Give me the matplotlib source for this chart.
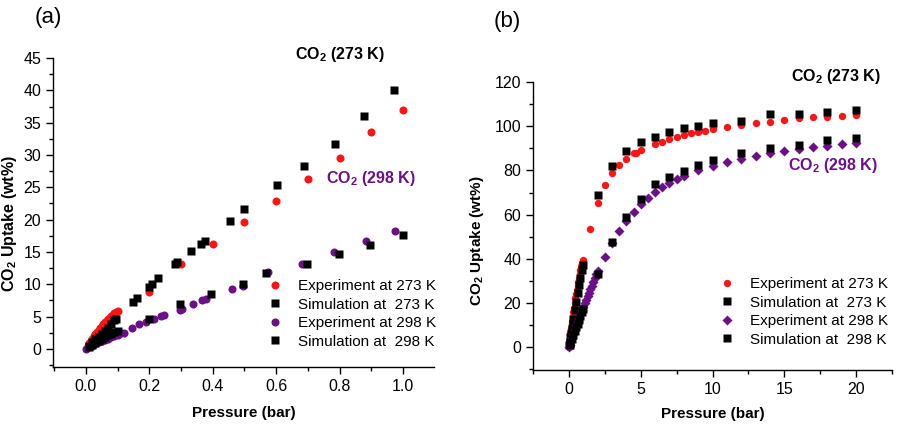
import matplotlib
matplotlib.use("Agg")
import matplotlib.pyplot as plt
from matplotlib.ticker import MultipleLocator

plt.rcParams['font.family'] = ['Liberation Sans', 'DejaVu Sans']
plt.rcParams['mathtext.fontset'] = 'custom'
plt.rcParams['mathtext.rm'] = 'Liberation Sans'
plt.rcParams['mathtext.bf'] = 'Liberation Sans:bold'

RED = '#ff1414'
PURPLE = '#6e0f8a'

# ---- panel (a): 0 - 1 bar ----
a_exp273_p = [0.005, 0.01, 0.015, 0.02, 0.025, 0.03, 0.035, 0.04, 0.045, 0.05, 0.055, 0.06,
              0.065, 0.07, 0.075, 0.08, 0.085, 0.09, 0.095, 0.1,
              0.2, 0.3, 0.4, 0.5, 0.6, 0.7, 0.8, 0.9, 1.0]
a_exp273_u = [0.5, 0.9, 1.3, 1.6, 2.0, 2.3, 2.6, 2.9, 3.2, 3.5, 3.8, 4.1,
              4.3, 4.6, 4.8, 5.1, 5.3, 5.5, 5.7, 5.9,
              8.8, 13.1, 16.3, 19.6, 22.9, 26.3, 29.6, 33.5, 36.9]
a_sim273_p = [0.01, 0.02, 0.03, 0.04, 0.05, 0.06, 0.07, 0.08, 0.09, 0.096,
              0.15, 0.16, 0.199, 0.209, 0.226, 0.281, 0.287, 0.331, 0.363, 0.375,
              0.453, 0.50, 0.603, 0.687, 0.785, 0.878, 0.973]
a_sim273_u = [0.5, 1.0, 1.5, 1.9, 2.3, 2.8, 3.3, 3.8, 4.4, 4.7,
              7.3, 7.8, 9.6, 10.0, 10.9, 13.1, 13.4, 15.2, 16.3, 16.7,
              19.8, 21.6, 25.3, 28.3, 31.7, 36.0, 40.0]
a_exp298_p = [0.0, 0.01, 0.02, 0.03, 0.04, 0.05, 0.06, 0.07, 0.08, 0.09, 0.1, 0.11, 0.12,
              0.146, 0.168, 0.188, 0.215, 0.237, 0.247, 0.297, 0.303, 0.337, 0.367, 0.378,
              0.462, 0.494, 0.575, 0.682, 0.783, 0.882, 0.975]
a_exp298_u = [0.0, 0.3, 0.5, 0.8, 1.0, 1.2, 1.4, 1.6, 1.8, 2.0, 2.2, 2.4, 2.5,
              3.2, 3.9, 4.2, 4.6, 5.1, 5.3, 6.0, 6.1, 6.9, 7.5, 7.7,
              9.3, 9.8, 11.9, 13.2, 15.0, 16.7, 18.2]
a_sim298_p = [0.01, 0.02, 0.03, 0.04, 0.05, 0.06, 0.07, 0.08, 0.09, 0.1,
              0.198, 0.298, 0.396, 0.496, 0.567, 0.697, 0.798, 0.897, 0.999]
a_sim298_u = [0.3, 0.6, 0.9, 1.2, 1.5, 1.8, 2.1, 2.3, 2.6, 2.8,
              4.7, 6.9, 8.5, 10.0, 11.7, 13.1, 14.7, 16.1, 17.6]

# ---- panel (b): 0 - 20 bar ----
b_exp273_p = [0.0, 0.02, 0.05, 0.1, 0.15, 0.2, 0.25, 0.3, 0.35, 0.4, 0.45, 0.5, 0.55, 0.6,
              0.65, 0.7, 0.75, 0.8, 0.85, 0.9, 0.95, 1.0,
              1.5, 2.0, 2.5, 3.0, 3.5, 4.0, 4.5, 4.7, 5.0, 6.0, 6.5, 7.0, 7.5, 8.0, 8.5,
              9.0, 9.5, 10.0, 11, 12, 13, 14, 15, 16, 17, 18, 19, 20]
b_exp273_u = [0.0, 1.5, 3.4, 6.2, 8.7, 11.2, 13.5, 15.7, 17.9, 20.0, 22.0, 24.0, 25.9, 27.8,
              29.6, 31.4, 33.1, 34.8, 36.5, 38.1, 39.0, 39.5,
              53.4, 65.4, 73.4, 78.7, 82.4, 85.4, 87.7, 88.0, 89.2, 92.2, 93.1, 94.2, 95.2, 96.0, 96.8,
              97.2, 98.0, 98.6, 99.8, 100.5, 101.4, 102.0, 102.8, 103.6, 104.0, 104.3, 104.8, 105.1]
b_sim273_p = [0.02, 0.05, 0.1, 0.15, 0.2, 0.25, 0.3, 0.4, 0.5, 0.6, 0.7, 0.8, 0.9, 0.95,
              2, 3, 4, 5, 6, 7, 8, 9, 10, 12, 14, 16, 18, 20]
b_sim273_u = [1.0, 2.2, 4.4, 6.5, 8.6, 10.7, 12.8, 16.8, 20.6, 24.4, 28.0, 31.5, 34.9, 37.1,
              69.1, 82.1, 88.9, 93.0, 95.2, 97.4, 99.2, 100.1, 101.6, 102.5, 105.5, 105.5, 106.3, 107.3]
b_exp298_p = [0.0, 0.05, 0.1, 0.2, 0.3, 0.4, 0.5, 0.6, 0.7, 0.8, 0.9, 1.0, 1.1, 1.2, 1.3, 1.4,
              1.5, 1.6, 1.7, 1.8, 1.9, 2.0, 2.5, 3.0, 3.5, 4.0, 4.5, 5.0, 5.5, 6.0, 6.5, 7.0,
              7.5, 8.0, 9.0, 10.0, 11.0, 12, 13, 14, 15, 16, 17, 18, 19, 20]
b_exp298_u = [0.0, 1.1, 2.2, 4.2, 6.1, 8.0, 9.8, 11.6, 13.3, 15.0, 16.7, 18.3, 19.8, 21.4, 23.0, 24.6,
              26.2, 27.8, 29.5, 31.2, 33.0, 34.6, 40.9, 47.2, 52.7, 57.2, 61.3, 64.8, 67.6, 70.1, 72.3, 74.4,
              76.1, 77.6, 80.2, 82.1, 83.9, 85.4, 86.6, 88.0, 88.9, 89.7, 90.4, 91.2, 91.9, 92.5]
b_sim298_p = [0.05, 0.1, 0.2, 0.3, 0.4, 0.5, 0.6, 0.7, 0.8, 0.9, 0.95,
              2, 3, 4, 5, 6, 7, 8, 9, 10, 12, 14, 16, 18, 20]
b_sim298_u = [1.0, 1.8, 3.6, 5.4, 7.2, 8.9, 10.6, 12.4, 14.1, 15.7, 17.1,
              32.9, 47.4, 59.0, 67.0, 73.7, 76.9, 79.9, 82.6, 84.8, 87.8, 90.3, 91.5, 93.6, 94.5]

labels = ['Experiment at 273 K', 'Simulation at  273 K', 'Experiment at 298 K', 'Simulation at  298 K']

fig = plt.figure(figsize=(9.01, 4.30), dpi=100)
ax1 = fig.add_axes([0.0588, 0.1465, 0.4229, 0.7185])
ax2 = fig.add_axes([0.5916, 0.1395, 0.3984, 0.6695])


def style(ax, ylab_size):
    for s in ['top', 'right']:
        ax.spines[s].set_visible(False)
    for s in ['left', 'bottom']:
        ax.spines[s].set_linewidth(1.0)
    ax.tick_params(which='major', direction='out', length=5, width=1, labelsize=11.5)
    ax.tick_params(which='minor', direction='out', length=3, width=1)
    ax.set_xlabel('Pressure (bar)', fontsize=11, fontweight='bold')
    ax.set_ylabel(r'CO$_\mathbf{2}$ Uptake (wt%)', fontsize=ylab_size, fontweight='bold')


# panel (a)
ax1.plot(a_exp273_p, a_exp273_u, 'o', color=RED, ms=5.8, mec='none', label=labels[0])
ax1.plot(a_sim273_p, a_sim273_u, 's', color='black', ms=5.4, mec='none', label=labels[1])
ax1.plot(a_exp298_p, a_exp298_u, 'o', color=PURPLE, ms=5.8, mec='none', label=labels[2])
ax1.plot(a_sim298_p, a_sim298_u, 's', color='black', ms=5.4, mec='none', label=labels[3])
ax1.set_xlim(-0.104, 1.098)
ax1.set_ylim(-2.8, 45)
ax1.xaxis.set_minor_locator(MultipleLocator(0.1))
ax1.yaxis.set_minor_locator(MultipleLocator(2.5))
ax1.set_xticks([0.0, 0.2, 0.4, 0.6, 0.8, 1.0])
ax1.set_xticklabels(['0.0', '0.2', '0.4', '0.6', '0.8', '1.0'])
ax1.set_yticks(range(0, 50, 5))
style(ax1, 11.5)
ax1.xaxis.set_label_coords(0.501, -0.126)
ax1.yaxis.set_label_coords(-0.089, 0.465)
ax1.text(0.80, 45.6, r'CO$_\mathbf{2}$ (273 K)', fontsize=11.5, fontweight='bold',
         ha='center', va='center', clip_on=False)
ax1.text(0.90, 26.3, r'CO$_\mathbf{2}$ (298 K)', fontsize=11.5, fontweight='bold',
         color=PURPLE, ha='center', va='center')
ax1.legend(loc='upper left', bbox_to_anchor=(0.562, 0.285), frameon=False, fontsize=11,
           handlelength=1.0, handletextpad=1.0, labelspacing=0.3, borderpad=0, borderaxespad=0)

# panel (b)
ax2.plot(b_exp273_p, b_exp273_u, 'o', color=RED, ms=5.3, mec='none', label=labels[0])
ax2.plot(b_sim273_p, b_sim273_u, 's', color='black', ms=5.2, mec='none', label=labels[1])
ax2.plot(b_exp298_p, b_exp298_u, 'D', color=PURPLE, ms=4.8, mec='none', label=labels[2])
ax2.plot(b_sim298_p, b_sim298_u, 's', color='black', ms=5.2, mec='none', label=labels[3])
ax2.set_xlim(-2.5, 22.5)
ax2.set_ylim(-10.4, 120)
ax2.set_xticks([0, 5, 10, 15, 20])
ax2.xaxis.set_minor_locator(MultipleLocator(2.5))
ax2.set_yticks(range(0, 121, 20))
ax2.yaxis.set_minor_locator(MultipleLocator(10))
style(ax2, 11)
ax2.xaxis.set_label_coords(0.501, -0.128)
ax2.yaxis.set_label_coords(-0.131, 0.451)
ax2.text(18.6, 122.6, r'CO$_\mathbf{2}$ (273 K)', fontsize=11.5, fontweight='bold',
         ha='center', va='center', clip_on=False)
ax2.text(18.4, 82.4, r'CO$_\mathbf{2}$ (298 K)', fontsize=11.5, fontweight='bold',
         color=PURPLE, ha='center', va='center')
ax2.legend(loc='upper left', bbox_to_anchor=(0.518, 0.323), frameon=False, fontsize=11,
           handlelength=1.0, handletextpad=1.0, labelspacing=0.3, borderpad=0, borderaxespad=0)

fig.text(48 / 901, 1 - 17 / 430, '(a)', fontsize=16, ha='center', va='center')
fig.text(507 / 901, 1 - 22 / 430, '(b)', fontsize=16, ha='center', va='center')

fig.savefig('out.png', dpi=100)
